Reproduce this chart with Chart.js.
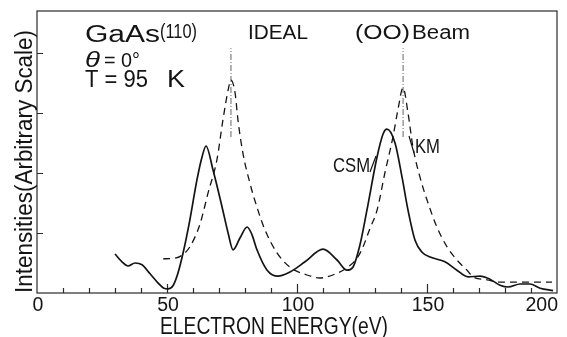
<!DOCTYPE html>
<html>
<head>
<meta charset="utf-8">
<script src="https://cdn.jsdelivr.net/npm/chart.js@4.4.0/dist/chart.umd.min.js"></script>
<style>
  html, body { margin: 0; padding: 0; background: #fff; }
  canvas { display: block; }
</style>
</head>
<body>
<canvas id="leedChart" width="567" height="337"></canvas>
<script>
// CSM curve (solid): electron energy in eV and intensity
const csmEnergy = [30.0, 32.7, 35.0, 37.7, 40.4, 43.5, 46.5, 48.8, 50.4, 52.3, 54.2, 56.2, 58.8, 61.5, 63.5, 65.0,
    67.7, 71.2, 73.5, 75.4, 78.1, 80.8, 82.7, 84.6, 88.5, 92.7, 97.3, 103.1, 110.0, 115.4, 119.2, 121.5,
    124.2, 126.9, 130.8, 133.1, 134.6, 137.7, 140.4, 142.7, 145.4, 148.1, 151.2, 156.9, 161.5, 165.8,
    170.4, 174.2, 178.1, 181.2, 185.8, 189.6, 193.5, 198.5];
const csmIntensity = [0.65, 0.52, 0.45, 0.50, 0.47, 0.32, 0.17, 0.08, 0.07, 0.12, 0.33, 0.67, 1.22, 1.88, 2.27, 2.45,
    2.05, 1.43, 1.00, 0.72, 0.92, 1.10, 0.97, 0.72, 0.38, 0.28, 0.35, 0.52, 0.73, 0.55, 0.38, 0.43,
    0.80, 1.38, 2.27, 2.65, 2.73, 2.50, 1.93, 1.38, 0.88, 0.68, 0.60, 0.52, 0.38, 0.27,
    0.28, 0.23, 0.13, 0.10, 0.15, 0.15, 0.08, 0.04];

// KM curve (dashed)
const kmEnergy = [48.5, 53.1, 55.8, 58.8, 62.7, 65.8, 69.2, 71.5, 73.5, 74.6, 76.2, 77.3, 79.2, 81.9, 84.6, 87.7,
    92.3, 97.3, 103.8, 108.8, 115.4, 119.2, 123.1, 125.4, 128.1, 130.8, 133.8, 136.9, 138.8, 140.8,
    142.7, 144.6, 147.3, 150.4, 153.8, 157.7, 161.5, 165.4, 167.7, 173.1, 178.1, 186.9, 198.1];
const kmIntensity = [0.57, 0.58, 0.63, 0.77, 1.15, 1.67, 2.22, 2.88, 3.38, 3.55, 3.33, 2.88, 2.33, 1.83, 1.43, 1.05,
    0.67, 0.43, 0.30, 0.25, 0.33, 0.42, 0.58, 0.77, 1.08, 1.38, 2.00, 2.60, 3.05, 3.42,
    3.00, 2.43, 1.93, 1.50, 1.10, 0.77, 0.55, 0.38, 0.27, 0.22, 0.18, 0.18, 0.18];

// ideal peak positions (vertical dash-dot marks) and their vertical extent
const peakEnergies = [74.6, 140.8];
const peakSpan = [2.6, 4.08];

// axis ticks
const xTickLabels = [0, 50, 100, 150, 200];
const yTickValues = [1, 2, 3, 4];

const FONT = '"Liberation Sans", "DejaVu Sans", Arial, sans-serif';
const INK = '#141414';

function toPoints(xs, ys) {
    return xs.map((x, i) => ({ x: x, y: ys[i] }));
}

// draws text starting at (left, baseline), stretched horizontally to the given width
function drawText(ctx, text, left, baseline, size, width, opts) {
    opts = opts || {};
    ctx.save();
    ctx.font = (opts.style || '') + ' ' + (opts.weight || 'normal') + ' ' + size + 'px ' + FONT;
    ctx.fillStyle = INK;
    ctx.textAlign = 'left';
    ctx.textBaseline = 'alphabetic';
    const w = ctx.measureText(text).width;
    ctx.translate(left, baseline);
    if (opts.rotate) ctx.rotate(opts.rotate);
    if (width) ctx.scale(width / w, 1);
    ctx.fillText(text, 0, 0);
    ctx.restore();
}

// frame, inward tick marks, axis labels and annotations
const decorations = {
    id: 'decorations',
    beforeDatasetsDraw(chart) {
        const ctx = chart.ctx;
        const xs = chart.scales.x;
        const ys = chart.scales.y;
        const left = xs.getPixelForValue(0);
        const right = xs.getPixelForValue(200);
        const bottom = ys.getPixelForValue(0);
        const top = ys.getPixelForValue(4.7);

        ctx.save();
        ctx.strokeStyle = '#2a2a2a';
        ctx.lineWidth = 1.2;
        ctx.strokeRect(left, top, right - left, bottom - top);

        // x ticks every 10 eV, longer ones every 50
        ctx.beginPath();
        for (let v = 10; v < 200; v += 10) {
            const px = Math.round(xs.getPixelForValue(v)) + 0.5;
            const len = v % 50 === 0 ? 9 : 5;
            ctx.moveTo(px, bottom);
            ctx.lineTo(px, bottom - len);
        }
        yTickValues.forEach(v => {
            const py = Math.round(ys.getPixelForValue(v)) + 0.5;
            ctx.moveTo(left, py);
            ctx.lineTo(left + 6, py);
        });
        ctx.stroke();
        ctx.restore();
    },
    afterDraw(chart) {
        const ctx = chart.ctx;
        const xs = chart.scales.x;

        // x tick labels
        ctx.save();
        ctx.font = '19.5px ' + FONT;
        ctx.fillStyle = INK;
        ctx.textBaseline = 'alphabetic';
        xTickLabels.forEach(v => {
            const px = xs.getPixelForValue(v);
            if (v === 200) {
                ctx.textAlign = 'right';
                ctx.fillText(String(v), px + 1, 311);
            } else {
                ctx.textAlign = 'center';
                ctx.fillText(String(v), px + 1, 311);
            }
        });
        ctx.restore();

        // axis titles
        drawText(ctx, 'ELECTRON ENERGY(eV)', 160, 334, 23.5, 228);
        drawText(ctx, 'Intensities(Arbitrary Scale)', 32, 293, 23.5, 263, { rotate: -Math.PI / 2 });

        // header texts
        drawText(ctx, 'GaAs', 85, 42, 23.5, 75);
        drawText(ctx, '(110)', 160, 38, 20, 37);
        drawText(ctx, '\u03b8', 85, 67, 23, 15, { style: 'italic' });
        drawText(ctx, '= 0\u00b0', 104, 67, 19.5, 36);
        drawText(ctx, 'T = 95', 85, 87, 23.5, 63);
        drawText(ctx, 'K', 167, 87, 23.5, 18);
        drawText(ctx, 'IDEAL', 248, 39, 19.5, 60);
        drawText(ctx, '(OO)', 355, 39, 19.5, 55);
        drawText(ctx, 'Beam', 412, 39, 19.5, 58);

        // curve labels with their leader strokes
        drawText(ctx, 'CSM', 333, 172, 21, 37);
        drawText(ctx, 'KM', 415, 153, 21, 25);
        ctx.save();
        ctx.strokeStyle = INK;
        ctx.lineWidth = 1.2;
        ctx.beginPath();
        ctx.moveTo(370, 172);
        ctx.lineTo(376, 156);
        ctx.moveTo(414, 153);
        ctx.lineTo(409, 136);
        ctx.stroke();
        ctx.restore();
    }
};

const peakSets = peakEnergies.map(e => ({
    label: 'peak ' + e,
    data: [{ x: e, y: peakSpan[0] }, { x: e, y: peakSpan[1] }],
    borderColor: '#555',
    borderWidth: 0.9,
    borderDash: [6, 2, 1, 2],
    pointRadius: 0,
    fill: false
}));

new Chart(document.getElementById('leedChart'), {
    type: 'line',
    data: {
        datasets: [
            {
                label: 'CSM',
                data: toPoints(csmEnergy, csmIntensity),
                borderColor: INK,
                borderWidth: 1.7,
                pointRadius: 0,
                fill: false,
                cubicInterpolationMode: 'monotone'
            },
            {
                label: 'KM',
                data: toPoints(kmEnergy, kmIntensity),
                borderColor: INK,
                borderWidth: 1.3,
                borderDash: [7, 5],
                pointRadius: 0,
                fill: false,
                cubicInterpolationMode: 'monotone'
            }
        ].concat(peakSets)
    },
    options: {
        responsive: false,
        animation: false,
        layout: { padding: { left: 37, right: 10, top: 11, bottom: 44 } },
        scales: {
            x: { type: 'linear', min: 0, max: 200, display: false },
            y: { min: 0, max: 4.7, display: false }
        },
        plugins: {
            legend: { display: false },
            tooltip: { enabled: false }
        }
    },
    plugins: [decorations]
});
</script>
</body>
</html>
